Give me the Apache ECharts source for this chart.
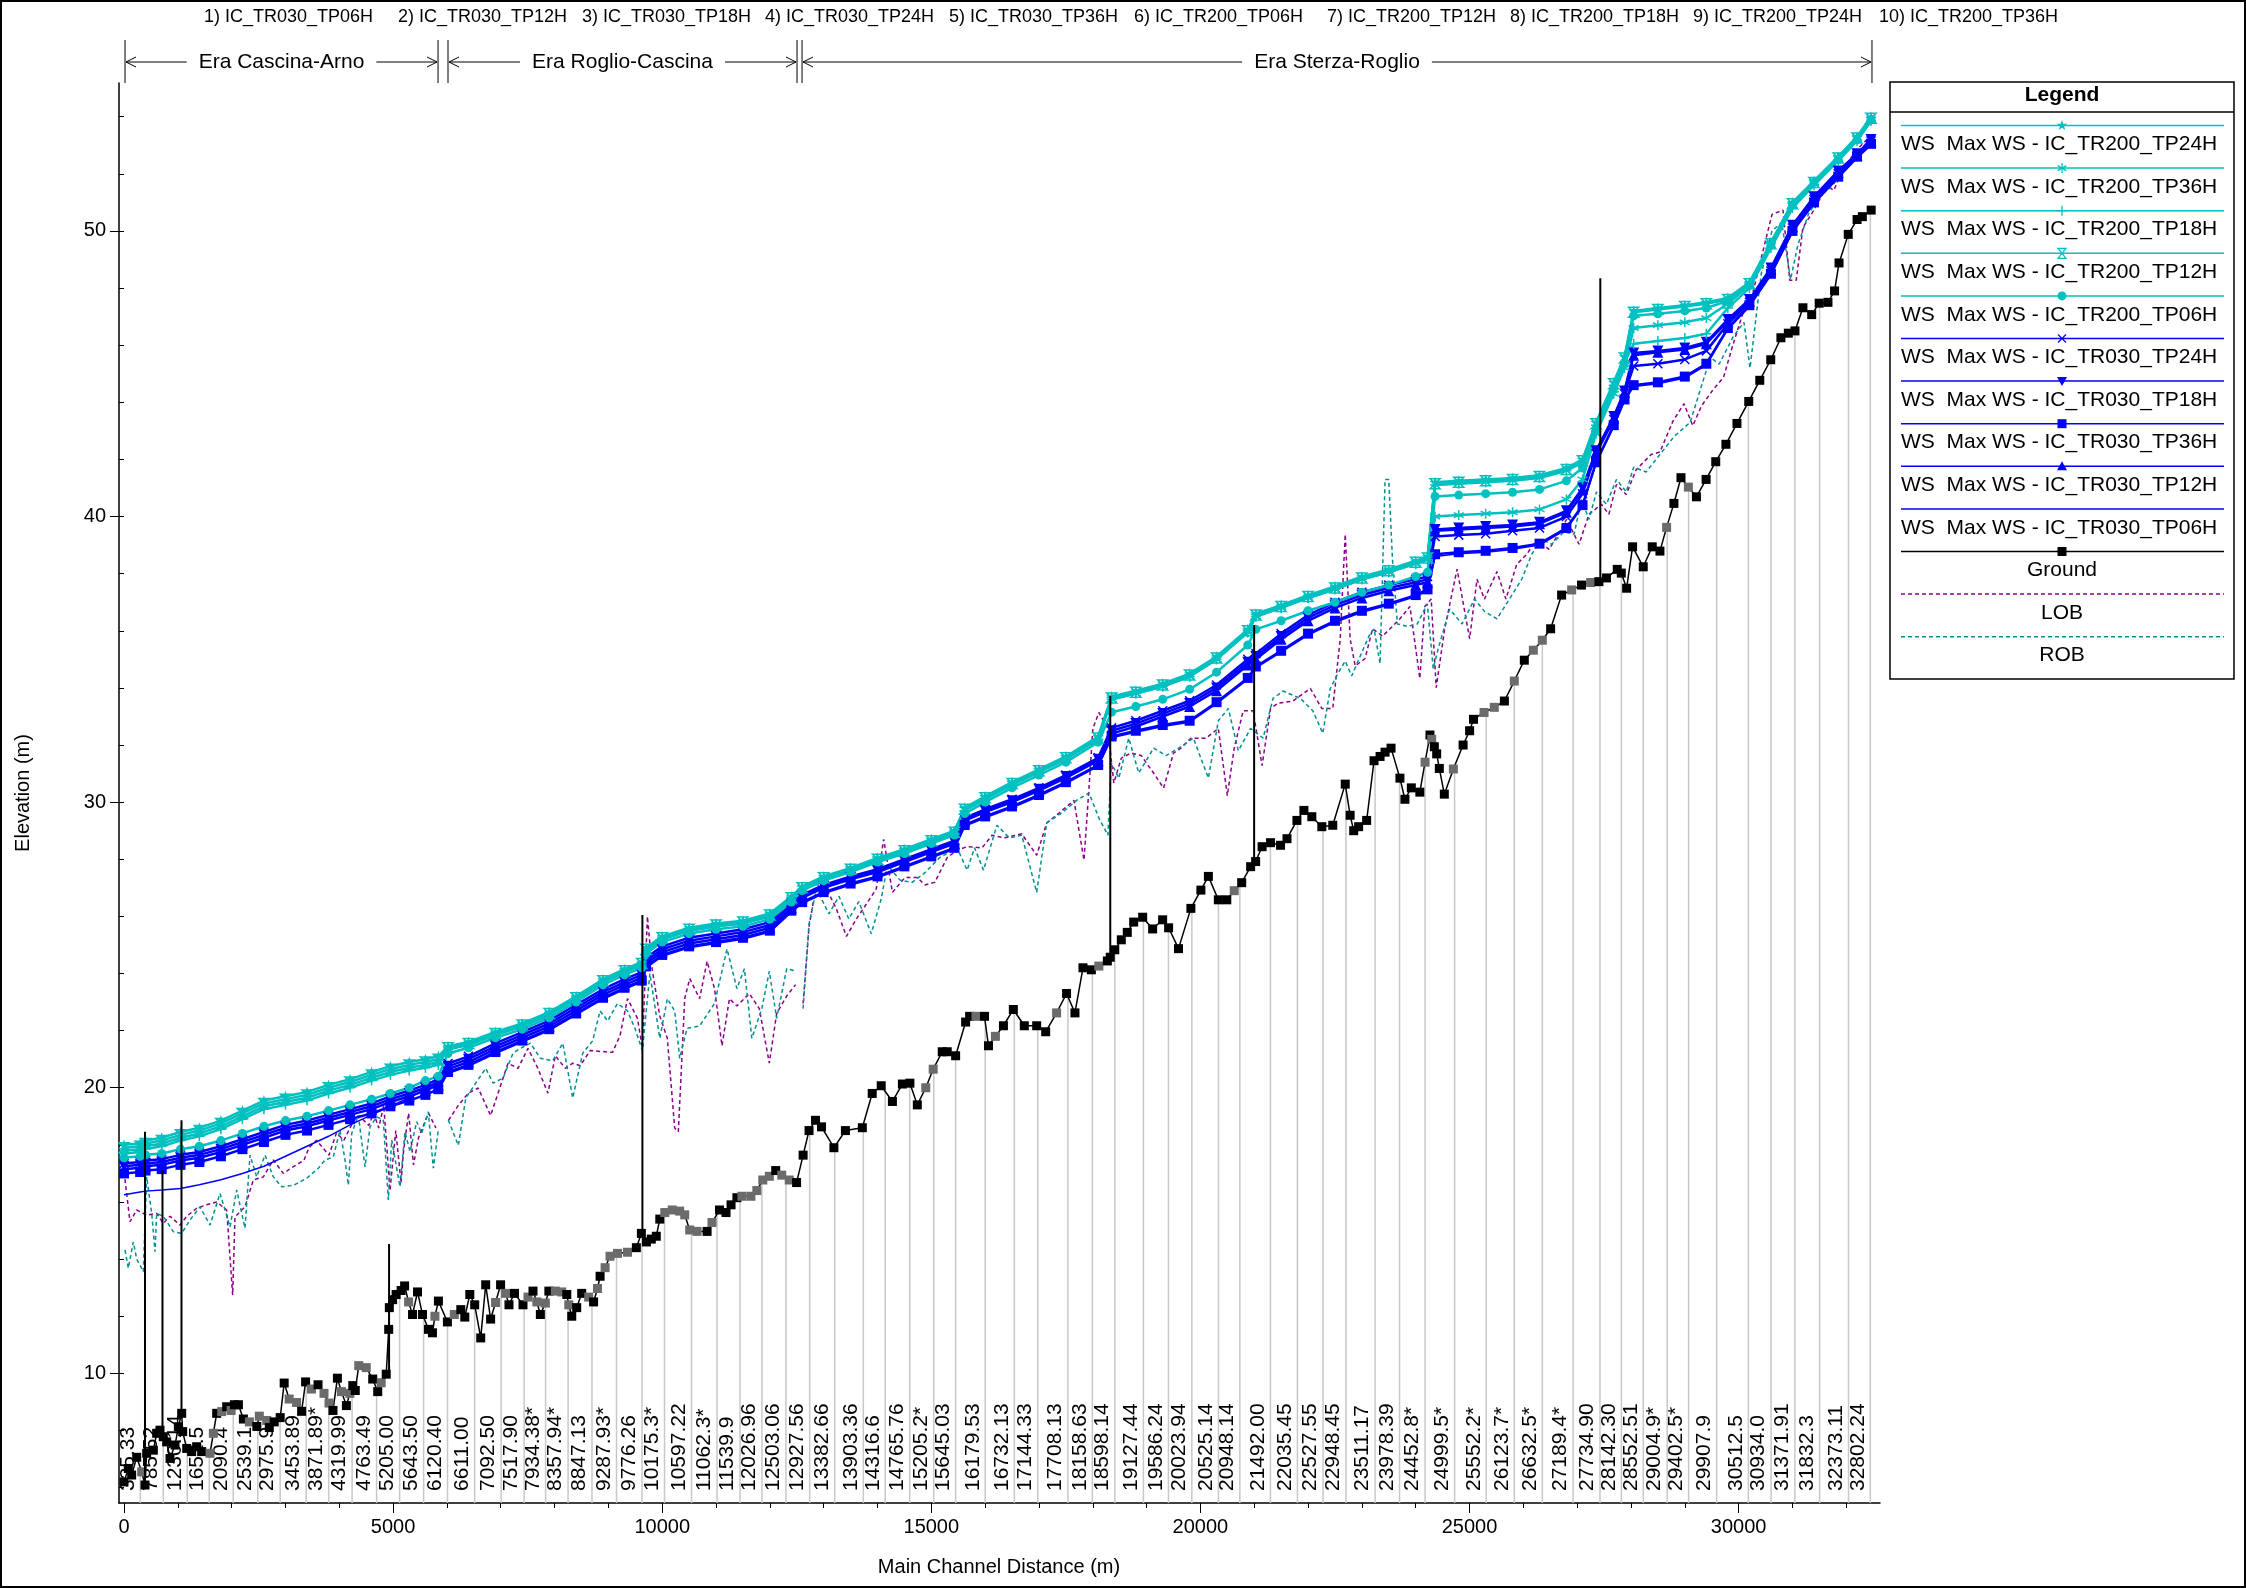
<!DOCTYPE html>
<html>
<head>
<meta charset="utf-8">
<title>Profile</title>
<script src="https://cdn.jsdelivr.net/npm/echarts@6.0.0/dist/echarts.min.js"></script>
<style>
  html, body { margin: 0; padding: 0; background: #fff; }
  #chart { width: 2246px; height: 1588px; }
</style>
</head>
<body>
<div id="chart"></div>
<script type="text/javascript">
// profile names shown on top
var profileTitles = ['1) IC_TR030_TP06H', '2) IC_TR030_TP12H', '3) IC_TR030_TP18H', '4) IC_TR030_TP24H', '5) IC_TR030_TP36H',
  '6) IC_TR200_TP06H', '7) IC_TR200_TP12H', '8) IC_TR200_TP18H', '9) IC_TR200_TP24H', '10) IC_TR200_TP36H'];
// reaches (main channel distance)
var reachNames = ['Era Cascina-Arno', 'Era Roglio-Cascina', 'Era Sterza-Roglio'];
var reachFrom = [19, 6020, 12598];
var reachTo = [5835, 12505, 32478];

var xTickLabels = [0, 5000, 10000, 15000, 20000, 25000, 30000];
var yTickLabels = [10, 20, 30, 40, 50];

// water surface profiles
var wsX = [0,300,400,700,1050,1400,1800,2200,2600,3000,3400,3800,4200,4600,4950,5300,5600,5840,
  6020,6400,6900,7400,7900,8400,8900,9300,9620,9700,10000,10500,11000,11500,12000,12400,
  12600,13000,13500,14000,14500,15000,15430,15620,16000,16500,17000,17500,18100,
  18350,18800,19300,19800,20300,20880,21030,21500,22000,22500,23000,23500,24000,24220,
  24360,24800,25300,25800,26300,26800,27100,27350,27680,27880,28050,28500,29000,29400,29800,30200,30600,31000,31400,31850,32200,32460];

var wsTR200_TP24H = [18.0,18.05,18.15,18.25,18.45,18.6,18.85,19.2,19.55,19.7,19.85,20.1,20.3,20.55,20.75,20.9,21.0,21.1,
  21.45,21.6,21.95,22.25,22.65,23.2,23.8,24.15,24.4,24.9,25.3,25.6,25.75,25.85,26.1,26.7,
  27.05,27.4,27.7,28.05,28.35,28.7,29.0,29.8,30.2,30.7,31.15,31.6,32.3,
  33.7,33.9,34.15,34.5,35.1,36.05,36.6,36.9,37.25,37.55,37.9,38.15,38.45,38.6,
  41.2,41.25,41.3,41.35,41.45,41.7,42.0,43.3,44.7,45.6,47.2,47.3,47.4,47.5,47.65,48.2,49.6,51.0,51.75,52.6,53.3,54.0];
var wsTR200_TP36H = [17.8,17.85,17.95,18.05,18.25,18.4,18.65,19.0,19.35,19.5,19.65,19.9,20.1,20.35,20.55,20.7,20.8,20.9,
  21.35,21.5,21.85,22.15,22.55,23.1,23.7,24.05,24.3,24.8,25.2,25.5,25.65,25.75,26.0,26.6,
  27.0,27.35,27.65,28.0,28.3,28.65,28.95,29.75,30.15,30.65,31.1,31.55,32.25,
  33.6,33.8,34.05,34.4,35.0,35.95,36.5,36.8,37.15,37.45,37.8,38.05,38.35,38.5,
  40.0,40.05,40.1,40.15,40.25,40.6,41.3,42.9,44.3,45.2,46.6,46.7,46.8,46.95,47.45,48.1,49.5,50.9,51.7,52.55,53.25,53.9];
var wsTR200_TP18H = [17.7,17.75,17.85,17.95,18.15,18.3,18.55,18.9,19.25,19.4,19.55,19.8,20.0,20.25,20.45,20.6,20.7,20.8,
  21.35,21.5,21.85,22.15,22.55,23.1,23.7,24.05,24.3,24.8,25.2,25.5,25.65,25.75,26.0,26.6,
  26.95,27.3,27.6,27.95,28.25,28.6,28.9,29.7,30.1,30.6,31.05,31.5,32.2,
  33.6,33.8,34.05,34.4,35.0,35.95,36.5,36.8,37.15,37.45,37.8,38.05,38.35,38.5,
  41.1,41.15,41.2,41.25,41.35,41.6,41.9,43.2,44.6,45.4,46.05,46.15,46.25,46.4,47.3,48.0,49.4,50.8,51.6,52.45,53.15,53.85];
var wsTR200_TP12H = [17.9,17.95,18.05,18.15,18.35,18.5,18.75,19.1,19.45,19.6,19.75,20.0,20.2,20.45,20.65,20.8,20.9,21.0,
  21.4,21.55,21.9,22.2,22.6,23.15,23.75,24.1,24.35,24.85,25.25,25.55,25.7,25.8,26.05,26.65,
  27.0,27.35,27.65,28.0,28.3,28.65,28.95,29.75,30.15,30.65,31.1,31.55,32.25,
  33.65,33.85,34.1,34.45,35.05,36.0,36.55,36.85,37.2,37.5,37.85,38.1,38.4,38.55,
  41.15,41.2,41.25,41.3,41.4,41.65,41.95,43.25,44.65,45.55,47.15,47.25,47.35,47.45,47.6,48.15,49.55,50.95,51.7,52.55,53.25,53.95];
var wsTR200_TP06H = [17.55,17.6,17.65,17.7,17.85,17.95,18.15,18.4,18.65,18.85,19.0,19.2,19.4,19.6,19.8,20.0,20.25,20.4,
  21.2,21.4,21.75,22.05,22.45,23.0,23.6,23.95,24.2,24.7,25.1,25.4,25.55,25.65,25.9,26.5,
  26.9,27.25,27.55,27.9,28.2,28.55,28.85,29.6,30.0,30.5,30.95,31.4,32.1,
  33.15,33.35,33.6,33.95,34.55,35.5,36.05,36.35,36.7,37.0,37.35,37.6,37.9,38.05,
  40.7,40.75,40.8,40.85,40.95,41.25,41.7,43.0,44.5,45.4,47.03,47.1,47.2,47.3,47.55,48.1,49.5,50.9,51.7,52.5,53.2,53.9];
var wsTR030_TP24H = [17.35,17.4,17.45,17.5,17.65,17.75,17.95,18.2,18.45,18.7,18.85,19.05,19.25,19.45,19.7,19.9,20.1,20.3,
  20.85,21.1,21.55,21.95,22.35,22.9,23.45,23.8,24.05,24.55,24.95,25.25,25.4,25.55,25.8,26.5,
  26.75,27.1,27.4,27.65,28.0,28.35,28.65,29.45,29.75,30.1,30.5,30.95,31.55,
  32.6,32.85,33.2,33.55,34.1,35.0,35.2,35.9,36.55,37.0,37.35,37.6,37.8,37.9,
  39.3,39.35,39.4,39.5,39.6,40.0,40.8,42.2,43.4,44.3,45.27,45.35,45.5,45.8,46.75,47.5,48.6,50.1,51.1,52.0,52.65,53.15];
var wsTR030_TP18H = [17.25,17.3,17.35,17.4,17.55,17.65,17.85,18.1,18.35,18.6,18.75,18.95,19.15,19.35,19.6,19.8,20.0,20.2,
  20.75,21.0,21.45,21.85,22.25,22.8,23.35,23.7,23.95,24.45,24.85,25.15,25.3,25.45,25.7,26.4,
  26.7,27.05,27.35,27.6,27.95,28.3,28.6,29.4,29.7,30.05,30.45,30.9,31.5,
  32.5,32.75,33.1,33.45,34.0,34.9,35.1,35.8,36.45,36.9,37.25,37.5,37.7,37.8,
  39.55,39.6,39.65,39.7,39.8,40.2,41.0,42.3,43.5,44.4,45.73,45.8,45.9,46.1,46.9,47.6,48.7,50.2,51.2,52.1,52.7,53.2];
var wsTR030_TP36H = [17.0,17.05,17.1,17.15,17.3,17.4,17.6,17.85,18.1,18.35,18.5,18.7,18.9,19.1,19.35,19.55,19.75,19.95,
  20.55,20.8,21.25,21.65,22.05,22.6,23.15,23.5,23.75,24.25,24.65,24.95,25.1,25.25,25.5,26.2,
  26.5,26.85,27.15,27.4,27.75,28.1,28.4,29.2,29.5,29.85,30.25,30.7,31.3,
  32.3,32.5,32.7,32.85,33.5,34.35,34.75,35.3,35.9,36.35,36.7,36.95,37.25,37.45,
  38.68,38.75,38.8,38.9,39.05,39.6,40.4,41.9,43.2,44.1,44.6,44.7,44.9,45.35,46.6,47.4,48.5,50.0,51.0,51.9,52.6,53.05];
var wsTR030_TP12H = [17.15,17.2,17.25,17.3,17.45,17.55,17.75,18.0,18.25,18.5,18.65,18.85,19.05,19.25,19.5,19.7,19.9,20.1,
  20.65,20.9,21.35,21.75,22.15,22.7,23.25,23.6,23.85,24.35,24.75,25.05,25.2,25.35,25.6,26.3,
  26.65,27.0,27.3,27.55,27.9,28.25,28.55,29.35,29.65,30.0,30.4,30.85,31.45,
  32.4,32.65,33.0,33.35,33.9,34.8,35.0,35.7,36.35,36.8,37.15,37.4,37.6,37.7,
  39.5,39.55,39.6,39.65,39.75,40.15,40.95,42.25,43.45,44.35,45.65,45.75,45.85,46.05,46.85,47.55,48.65,50.15,51.15,52.05,52.65,53.15];
var wsTR030_TP06H = [16.25,16.35,16.38,16.42,16.47,16.6,16.78,17.0,17.25,17.6,17.95,18.3,18.7,19.05,19.35,19.65,19.95,20.2,
  20.5,20.75,21.2,21.6,22.0,22.55,23.1,23.45,23.7,24.2,24.6,24.9,25.05,25.2,25.45,26.15,
  26.45,26.8,27.1,27.35,27.7,28.05,28.35,29.15,29.45,29.8,30.2,30.65,31.25,
  32.25,32.45,32.65,32.8,33.45,34.3,34.7,35.25,35.85,36.3,36.65,36.9,37.2,37.4,
  38.6,38.7,38.75,38.85,39.0,39.55,40.35,41.85,43.15,44.05,44.55,44.65,44.85,45.3,46.55,47.35,48.45,49.95,50.95,51.85,52.55,53.0];

// channel bed (distance, elevation)
var groundXY = [[0,6.2],[80,6.67],[142,6.44],[236,7.06],[329,6.55],[390,6.09],[421,7.2],[545,7.31],[607,7.9],[669,8.01],
  [730,7.78],[793,7.6],[855,7.02],[948,7.49],[1010,8.13],[1072,8.6],[1090,7.96],[1165,7.37],[1257,7.26],[1350,7.43],
  [1443,7.26],[1598,7.2],[1660,7.9],[1722,8.6],[1815,8.66],[1908,8.83],[1990,8.7],[2051,8.9],[2126,8.9],[2218,8.4],
  [2330,8.3],[2468,8.14],[2514,8.5],[2653,8.35],[2700,8.1],[2791,8.3],[2902,8.45],[2976,9.66],[3069,9.1],[3207,8.98],
  [3300,8.67],[3374,9.7],[3484,9.45],[3605,9.6],[3716,9.3],[3809,8.96],[3883,8.7],[3965,9.83],[4040,9.36],[4132,8.87],
  [4197,9.3],[4251,9.57],[4297,9.4],[4362,10.27],[4501,10.2],[4621,9.8],[4714,9.36],[4779,9.67],[4872,9.97],[4918,11.54],
  [4930,12.3],[4991,12.58],[5056,12.76],[5149,12.9],[5214,13.06],[5288,12.5],[5361,12.06],[5454,12.85],[5546,12.06],[5658,11.54],
  [5731,11.42],[5777,12.0],[5842,12.53],[6009,11.8],[6137,12.06],[6258,12.23],[6332,11.97],[6425,12.76],[6516,12.4],[6628,11.24],
  [6720,13.1],[6812,11.9],[6904,12.48],[6997,13.1],[7090,12.8],[7153,12.4],[7255,12.8],[7413,12.4],[7506,12.67],[7599,12.88],
  [7671,12.5],[7736,12.06],[7829,12.46],[7894,12.88],[8014,12.88],[8134,12.85],[8227,12.76],[8264,12.4],[8319,12.0],[8411,12.3],
  [8504,12.8],[8634,12.67],[8725,12.5],[8798,12.97],[8846,13.4],[8939,13.7],[9030,14.1],[9169,14.2],[9355,14.24],[9520,14.4],
  [9613,14.9],[9706,14.6],[9797,14.7],[9890,14.8],[9955,15.4],[10048,15.63],[10186,15.72],[10325,15.68],[10418,15.55],[10511,15.02],
  [10648,14.97],[10834,14.97],[10925,15.28],[11065,15.72],[11186,15.63],[11279,15.9],[11388,16.15],[11481,16.2],[11648,16.2],[11758,16.4],
  [11869,16.77],[11990,16.9],[12109,17.1],[12221,16.94],[12360,16.77],[12497,16.68],[12618,17.64],[12728,18.5],[12848,18.86],[12960,18.63],
  [13190,17.9],[13404,18.5],[13718,18.6],[13902,19.8],[14069,20.07],[14277,19.52],[14463,20.13],[14602,20.16],[14740,19.4],[14897,20.0],
  [15035,20.65],[15203,21.26],[15296,21.26],[15452,21.12],[15638,22.3],[15712,22.5],[15830,22.5],[15988,22.5],[16062,21.47],[16191,21.8],
  [16340,22.17],[16524,22.74],[16728,22.17],[16958,22.17],[17125,21.96],[17328,22.62],[17513,23.3],[17669,22.62],[17818,24.2],[17974,24.13],
  [18113,24.26],[18271,24.44],[18325,24.57],[18409,24.83],[18530,25.18],[18641,25.44],[18760,25.8],[18927,25.97],[19112,25.56],[19298,25.88],
  [19409,25.6],[19593,24.87],[19823,26.28],[20009,26.92],[20148,27.4],[20333,26.58],[20490,26.58],[20628,26.9],[20767,27.18],[20933,27.74],
  [21026,27.92],[21146,28.44],[21303,28.58],[21489,28.49],[21609,28.72],[21793,29.36],[21923,29.71],[22070,29.49],[22256,29.14],[22459,29.19],
  [22691,30.63],[22782,29.54],[22848,29.0],[22940,29.14],[23089,29.36],[23226,31.45],[23338,31.6],[23431,31.75],[23542,31.89],[23707,30.84],
  [23800,30.1],[23919,30.5],[24077,30.35],[24174,31.4],[24265,32.35],[24297,32.2],[24346,31.94],[24390,31.69],[24439,31.18],[24532,30.28],
  [24700,31.16],[24881,32.0],[25002,32.5],[25074,32.9],[25270,33.14],[25460,33.32],[25648,33.54],[25832,34.24],[26018,34.97],[26186,35.32],
  [26353,35.67],[26507,36.07],[26711,37.25],[26898,37.43],[27081,37.6],[27251,37.69],[27404,37.72],[27544,37.85],[27745,38.15],[27820,38.02],
  [27919,37.49],[28030,38.94],[28228,38.24],[28395,38.94],[28538,38.79],[28662,39.62],[28798,40.46],[28929,41.36],[29067,41.03],[29216,40.69],
  [29396,41.3],[29575,41.92],[29764,42.53],[29969,43.26],[30188,44.03],[30393,44.77],[30597,45.49],[30786,46.26],[30924,46.42],[31047,46.5],
  [31195,47.31],[31358,47.07],[31497,47.47],[31660,47.5],[31783,47.9],[31866,48.88],[32037,49.88],[32201,50.4],[32299,50.5],[32463,50.73]];
// interpolated cross sections (grey markers)
var groundInterpX = [329,1598,1660,1815,1990,2330,2514,2653,3069,3207,3484,3716,3809,4040,4197,4362,4501,4779,5288,5777,
  6137,6904,7090,7506,7671,7829,8014,8134,8264,8634,8798,8939,9030,9169,9355,10048,10186,10325,10418,10511,10648,10925,
  11481,11648,11758,11869,11990,12221,12360,14897,15035,15830,16191,17328,18113,20628,24174,24297,24700,25270,25460,25832,
  26186,26353,26898,27251,28662,29067];

// left / right overbank stations (null = gap between reaches)
var lobXY = [[18,16.8],[111,15.31],[236,15.72],[421,15.54],[607,15.6],[730,15.25],[855,15.5],[1040,15.19],[1165,15.5],[1350,15.78],
  [1536,15.9],[1722,16.0],[1908,15.72],[2019,12.74],[2062,15.48],[2248,15.83],[2403,16.77],[2589,16.88],[2774,17.47],[2960,17.0],
  [3114,17.2],[3345,17.46],[3437,17.9],[3577,18.16],[3809,17.64],[3947,18.42],[4086,18.16],[4270,18.86],[4362,19.03],[4548,18.68],
  [4640,19.11],[4733,18.59],[4826,19.38],[4942,16.4],[5050,18.5],[5147,16.68],[5195,17.8],[5288,19.11],[5379,17.3],[5472,18.25],
  [5565,18.68],[5658,19.11],[5795,18.59],null,
  [6028,18.86],[6212,19.38],[6397,19.81],[6581,19.99],[6812,19.03],[6950,19.81],[7135,20.86],[7321,20.68],[7506,21.38],[7690,20.68],
  [7876,19.81],[8014,21.12],[8200,20.68],[8337,20.86],[8477,20.77],[8660,21.3],[9077,21.24],[9216,21.82],[9355,23.12],[9540,22.43],
  [9632,21.38],[9725,26.0],[9818,24.08],[9955,22.51],[10095,21.73],[10232,18.59],[10300,18.46],[10418,23.12],[10511,23.82],[10695,23.12],
  [10834,24.43],[10972,23.47],[11111,21.47],[11249,23.12],[11388,22.86],[11619,23.3],[11804,22.77],[11990,20.86],[12127,22.6],[12313,23.21],
  [12479,23.61],null,
  [12618,22.95],[12728,25.65],[12867,27.13],[13053,26.96],[13237,26.26],[13423,25.3],[13607,25.91],[13793,26.43],[13977,26.96],[14115,28.7],
  [14277,26.84],[14510,27.36],[14740,27.36],[14880,27.1],[15063,27.19],[15296,28.06],[15480,28.32],[15665,28.44],[15942,28.4],[16128,28.84],
  [16358,28.75],[16681,28.89],[16958,28.14],[17144,29.27],[17374,29.62],[17651,30.06],[17837,27.97],[17930,30.5],[18002,32.58],[18113,33.14],
  [18281,32.58],[18391,30.67],[18530,31.54],[18714,31.72],[18900,31.63],[19130,31.02],[19316,30.49],[19500,31.72],[19639,31.89],[19823,32.24],
  [20102,32.24],[20333,32.58],[20500,30.23],[20628,31.89],[20795,33.2],[20979,33.2],[21146,31.28],[21303,33.28],[21442,33.46],[21719,33.54],
  [22042,33.98],[22256,33.28],[22459,33.28],[22598,35.72],[22691,39.38],[22782,35.72],[22875,34.77],[23060,35.03],[23198,36.07],[23384,35.81],
  [23523,36.07],[23707,36.42],[23893,36.85],[24077,34.33],[24170,36.85],[24288,37.11],[24381,34.01],[24539,36.07],[24769,38.16],[25002,35.72],
  [25139,37.8],[25278,37.11],[25510,38.07],[25676,37.11],[25879,38.33],[26065,38.68],[26249,39.2],[26479,38.85],[26618,39.29],[26805,39.9],
  [27035,39.03],[27220,40.08],[27451,40.43],[27590,40.08],[27730,41.12],[27913,40.77],[28096,41.64],[28374,42.17],[28538,42.26],[28780,43.34],
  [28985,43.95],[29148,43.18],[29312,43.88],[29518,44.42],[29721,44.88],[29886,45.96],[30091,47.19],[30212,47.42],[30418,49.04],[30621,50.58],
  [30825,50.73],[30950,48.27],[31070,48.27],[31195,50.12],[31399,50.73],[31643,51.58],[31767,51.42],[31931,52.12],[32095,52.58],[32258,52.96],
  [32463,53.35]];
var robXY = [[18,14.32],[80,13.68],[173,14.6],[236,14.0],[359,13.56],[421,16.88],[515,15.6],[576,14.26],[607,15.6],[730,15.5],
  [916,14.96],[1072,14.9],[1226,15.37],[1412,15.83],[1598,15.19],[1784,16.3],[1970,15.13],[2094,16.42],[2248,15.08],[2341,17.64],
  [2466,16.88],[2620,17.64],[2774,16.88],[2930,16.53],[3146,16.58],[3395,16.83],[3610,17.18],[3735,17.47],[3889,17.58],[4013,18.52],
  [4106,17.47],[4168,16.59],[4231,18.4],[4354,19.04],[4478,17.23],[4571,18.63],[4695,18.98],[4818,18.87],[4911,16.07],[4974,18.17],
  [5128,16.53],[5221,18.46],[5314,17.76],[5438,18.81],[5531,18.4],[5654,19.16],[5747,17.18],[5840,18.52],null,
  [6026,18.87],[6212,17.98],[6351,19.64],[6535,20.16],[6721,20.68],[6858,20.16],[7044,20.34],[7228,21.21],[7367,21.38],[7551,21.56],
  [7737,21.03],[7967,20.95],[8153,21.56],[8337,19.64],[8523,21.21],[8707,21.64],[8846,22.69],[8986,22.34],[9169,22.95],[9355,22.69],
  [9493,22.08],[9632,21.3],[9771,24.0],[9955,21.73],[10095,23.12],[10232,22.69],[10325,21.03],[10461,22.08],[10695,22.16],[10972,22.95],
  [11204,24.86],[11388,23.47],[11527,24.17],[11665,21.73],[11851,22.77],[11990,24.08],[12127,22.43],[12313,24.17],[12497,24.08],null,
  [12618,22.77],[12728,25.74],[12867,26.96],[13097,26.09],[13284,26.7],[13467,25.91],[13653,26.52],[13884,25.39],[14069,26.61],[14186,27.8],
  [14417,27.27],[14647,27.19],[14880,27.53],[15156,28.06],[15480,28.4],[15665,27.62],[15803,28.4],[15970,27.62],[16219,29.19],[16450,28.75],
  [16681,28.84],[16958,26.84],[17144,29.27],[17421,29.62],[17698,30.06],[17930,30.32],[18113,29.45],[18281,28.84],[18345,31.37],[18484,30.84],
  [18669,32.24],[18854,31.02],[19130,31.89],[19362,31.63],[19593,31.89],[19870,32.24],[20148,30.84],[20333,32.85],[20519,33.28],[20703,31.8],
  [20933,32.58],[21165,32.24],[21349,33.63],[21535,33.89],[21858,33.63],[22088,33.2],[22274,32.41],[22413,33.98],[22553,34.5],[22691,34.94],
  [22810,34.42],[22968,35.11],[23152,35.9],[23226,36.07],[23338,34.85],[23431,41.3],[23500,41.3],[23568,38.51],[23660,36.24],[23846,36.15],
  [24030,36.24],[24216,36.94],[24325,34.67],[24418,35.37],[24630,36.76],[24862,36.24],[25093,37.11],[25278,36.68],[25510,36.42],[25741,37.11],
  [25972,37.81],[26156,38.68],[26341,39.2],[26526,39.03],[26758,39.47],[26943,39.38],[27081,40.6],[27220,39.9],[27358,40.86],[27544,40.43],
  [27730,41.3],[27913,40.86],[28050,41.73],[28281,41.56],[28538,42.17],[28800,42.8],[29100,43.3],[29475,45.57],[29640,45.34],[29900,46.3],
  [30100,46.8],[30212,45.2],[30420,48.5],[30620,50.0],[30800,50.3],[30965,48.3],[31100,49.5],[31300,50.6],[31500,51.2],[31750,51.6],
  [32000,52.3],[32250,52.8],[32463,53.3]];

// bridges / structures
var structX = [390, 715, 1068, 4925, 9632, 18325, 20998, 27430];
var structBottom = [6.09, 7.9, 8.6, 10.0, 14.85, 24.58, 27.88, 37.79];
var structTop = [18.46, 17.1, 18.86, 14.53, 26.05, 33.72, 36.2, 48.34];

// labelled river stations
var stationLabels = ['335.33','785.52','1230.14','1652.5','2090.4','2539.1','2975.9','3453.89','3871.89*','4319.99',
  '4763.49','5205.00','5643.50','6120.40','6611.00','7092.50','7517.90','7934.38*','8357.94*','8847.13',
  '9287.93*','9776.26','10175.3*','10597.22','11062.3*','11539.9','12026.96','12503.06','12927.56','13382.66',
  '13903.36','14316.6','14765.76','15205.2*','15645.03','16179.53','16732.13','17144.33','17708.13','18158.63',
  '18598.14','19127.44','19586.24','20023.94','20525.14','20948.14','21492.00','22035.45','22527.55','22948.45',
  '23511.17','23978.39','24452.8*','24999.5*','25552.2*','26123.7*','26632.5*','27189.4*','27734.90','28142.30',
  '28552.51','29004.9*','29402.5*','29907.9','30512.5','30934.0','31371.91','31832.3','32373.11','32802.24'];
var stationX = [303,730,1175,1584,2030,2485,2901,3385,3803,4238,
  4693,5121,5567,6011,6515,7007,7435,7833,8251,8695,
  9151,9625,10043,10545,11019,11446,11853,12299,12740,13205,
  13737,14144,14599,15045,15452,16002,16543,16979,17538,17992,
  18410,18941,19406,19841,20335,20733,21301,21803,22279,22704,
  23245,23700,24174,24723,25311,25832,26353,26924,27424,27822,
  28229,28673,29071,29592,30181,30603,31046,31505,32042,32447];

// ---- chart ----
var FONT = '"Liberation Sans", Arial, sans-serif';
var CYAN = '#00C0C0', BLUE = '#0000FF', PURPLE = '#8B008B', TEAL = '#009090';
var X_MIN = -93, X_MAX = 32627, Y_MIN = 5.46, Y_MAX = 55.18;

var SYM = {
  star: 'path://M0,-10L2.4,-3.3L9.5,-3.1L3.9,1.3L5.9,8.1L0,4.1L-5.9,8.1L-3.9,1.3L-9.5,-3.1L-2.4,-3.3Z',
  asterisk: 'path://M0,-10L0,10M-8.7,-5L8.7,5M-8.7,5L8.7,-5',
  plus: 'path://M0,-10L0,10M-10,0L10,0',
  hourglass: 'path://M-8,-10L8,-10L-8,10L8,10Z',
  cross: 'path://M-10,-10L10,10M-10,10L10,-10'
};

function groundAt(x) {
  for (var i = 0; i < groundXY.length - 1; i++) {
    var a = groundXY[i], b = groundXY[i + 1];
    if (x >= a[0] && x <= b[0]) {
      return a[1] + (b[1] - a[1]) * (x - a[0]) / (b[0] - a[0]);
    }
  }
  return groundXY[groundXY.length - 1][1];
}
function pairs(arr) {
  return wsX.map(function (x, i) { return [x, arr[i]]; });
}
function withGaps(list) {
  return list.map(function (p) { return p ? p : ['-', '-']; });
}

var minorX = [];
for (var t = 0; t <= 32000; t += 1000) minorX.push(t);
var minorY = [];
for (var v = 6; v <= 54; v += 2) minorY.push(v);

function wsSeries(name, data, color, symbol, size, opts) {
  var s = {
    name: name, type: 'line', data: pairs(data), z: 3, silent: true,
    symbol: symbol, symbolSize: size,
    lineStyle: { color: color, width: 2.5 },
    itemStyle: { color: color, borderColor: color, borderWidth: 0 }
  };
  if (opts) {
    for (var k in opts) s[k] = opts[k];
  }
  return s;
}

var series = [
  {
    type: 'custom', z: 1, silent: true,
    data: stationX.map(function (x) { return [x, Y_MIN]; }),
    encode: { x: 0, y: 1 },
    renderItem: function (params, api) {
      var x = api.value(0);
      var top = api.coord([x, groundAt(x)]);
      var bot = api.coord([x, Y_MIN]);
      return {
        type: 'group', children: [
          { type: 'line', shape: { x1: top[0], y1: top[1], x2: bot[0], y2: bot[1] }, style: { stroke: '#c8c8c8', lineWidth: 1.5 } },
          { type: 'text', x: bot[0] - 2, y: bot[1] - 12, rotation: Math.PI / 2,
            style: { text: stationLabels[params.dataIndex], font: '21px ' + FONT, fill: '#000', align: 'left', verticalAlign: 'bottom' } }
        ]
      };
    }
  },
  { name: 'LOB', type: 'line', z: 2, silent: true, data: withGaps(lobXY), symbol: 'none', connectNulls: false,
    lineStyle: { color: PURPLE, width: 1.5, type: [4, 3] } },
  { name: 'ROB', type: 'line', z: 2, silent: true, data: withGaps(robXY), symbol: 'none', connectNulls: false,
    lineStyle: { color: TEAL, width: 1.5, type: [4, 3] } },
  wsSeries('WS  Max WS - IC_TR030_TP06H', wsTR030_TP06H, BLUE, 'none', 0, { lineStyle: { color: BLUE, width: 1.5 } }),
  wsSeries('WS  Max WS - IC_TR030_TP12H', wsTR030_TP12H, BLUE, 'triangle', 11),
  wsSeries('WS  Max WS - IC_TR030_TP36H', wsTR030_TP36H, BLUE, 'rect', 10),
  wsSeries('WS  Max WS - IC_TR030_TP18H', wsTR030_TP18H, BLUE, 'triangle', 11, { symbolRotate: 180 }),
  wsSeries('WS  Max WS - IC_TR030_TP24H', wsTR030_TP24H, BLUE, SYM.cross, 9, { itemStyle: { color: BLUE, borderColor: BLUE, borderWidth: 1.5 } }),
  wsSeries('WS  Max WS - IC_TR200_TP06H', wsTR200_TP06H, CYAN, 'circle', 9),
  wsSeries('WS  Max WS - IC_TR200_TP12H', wsTR200_TP12H, CYAN, SYM.hourglass, 10, { itemStyle: { color: 'rgba(0,0,0,0)', borderColor: CYAN, borderWidth: 1.5 } }),
  wsSeries('WS  Max WS - IC_TR200_TP18H', wsTR200_TP18H, CYAN, SYM.plus, 10, { itemStyle: { color: CYAN, borderColor: CYAN, borderWidth: 1.5 } }),
  wsSeries('WS  Max WS - IC_TR200_TP36H', wsTR200_TP36H, CYAN, SYM.asterisk, 10, { itemStyle: { color: CYAN, borderColor: CYAN, borderWidth: 1.5 } }),
  wsSeries('WS  Max WS - IC_TR200_TP24H', wsTR200_TP24H, CYAN, SYM.star, 11),
  {
    name: 'Ground', type: 'line', z: 4, silent: true, symbol: 'rect', symbolSize: 9,
    lineStyle: { color: '#000', width: 1.5 },
    itemStyle: { color: '#000' },
    data: groundXY.map(function (p) {
      var grey = groundInterpX.indexOf(p[0]) >= 0;
      return grey ? { value: p, itemStyle: { color: '#6b6b6b' } } : { value: p };
    })
  },
  {
    type: 'custom', z: 5, silent: true,
    data: structX.map(function (x, i) { return [x, structBottom[i], structTop[i]]; }),
    encode: { x: 0, y: [1, 2] },
    renderItem: function (params, api) {
      var a = api.coord([api.value(0), api.value(1)]);
      var b = api.coord([api.value(0), api.value(2)]);
      return { type: 'line', shape: { x1: a[0], y1: a[1], x2: b[0], y2: b[1] }, style: { stroke: '#000', lineWidth: 2 } };
    }
  }
];

var chart = echarts.init(document.getElementById('chart'));
chart.setOption({
  animation: false,
  backgroundColor: '#fff',
  textStyle: { fontFamily: FONT },
  grid: { left: 119, top: 83, width: 1761, height: 1420, containLabel: false, outerBoundsMode: 'none' },
  xAxis: [
    { type: 'value', min: X_MIN, max: X_MAX, position: 'bottom',
      axisLine: { onZero: false, lineStyle: { color: '#000', width: 1.5 } },
      axisTick: { customValues: xTickLabels, length: 10, lineStyle: { color: '#000', width: 1 } },
      axisLabel: { customValues: xTickLabels, color: '#000', fontSize: 20, fontFamily: FONT, margin: 14,
        formatter: function (val) { return String(val); } },
      splitLine: { show: false } },
    { type: 'value', min: X_MIN, max: X_MAX, position: 'bottom',
      axisLine: { show: false },
      axisTick: { customValues: minorX, length: 5, lineStyle: { color: '#000', width: 1 } },
      axisLabel: { show: false }, splitLine: { show: false } }
  ],
  yAxis: [
    { type: 'value', min: Y_MIN, max: Y_MAX, position: 'left',
      axisLine: { show: true, onZero: false, lineStyle: { color: '#000', width: 1.5 } },
      axisTick: { show: true, customValues: yTickLabels, length: 9, lineStyle: { color: '#000', width: 1 } },
      axisLabel: { customValues: yTickLabels, color: '#000', fontSize: 20, fontFamily: FONT, margin: 13 },
      splitLine: { show: false } },
    { type: 'value', min: Y_MIN, max: Y_MAX, position: 'left',
      axisLine: { show: false },
      axisTick: { show: true, customValues: minorY, length: 5, lineStyle: { color: '#000', width: 1 } },
      axisLabel: { show: false }, splitLine: { show: false } }
  ],
  series: series
});

// ---- decorations: titles, reach arrows, legend ----
var els = [];
els.push({ type: 'rect', shape: { x: 1, y: 1, width: 2244, height: 1586 }, style: { fill: 'none', stroke: '#000', lineWidth: 2 }, z: 100 });

var titleLeft = [204, 398, 582, 765, 949, 1134, 1327, 1510, 1693, 1879];
profileTitles.forEach(function (t, i) {
  els.push({ type: 'text', x: titleLeft[i], y: 17, style: { text: t, font: '18px ' + FONT, fill: '#000', align: 'left', verticalAlign: 'middle' } });
});

var measure = document.createElement('canvas').getContext('2d');
measure.font = '21px "Liberation Sans"';
var RY = 62;
reachNames.forEach(function (name, i) {
  var x0 = chart.convertToPixel({ xAxisIndex: 0 }, reachFrom[i]);
  var x1 = chart.convertToPixel({ xAxisIndex: 0 }, reachTo[i]);
  var cx = (x0 + x1) / 2;
  var w = measure.measureText(name).width;
  var ln = { stroke: '#000', lineWidth: 1 };
  els.push({ type: 'line', shape: { x1: x0, y1: 40, x2: x0, y2: 83 }, style: ln });
  els.push({ type: 'line', shape: { x1: x1, y1: 40, x2: x1, y2: 83 }, style: ln });
  els.push({ type: 'line', shape: { x1: x0 + 1, y1: RY, x2: cx - w / 2 - 12, y2: RY }, style: ln });
  els.push({ type: 'line', shape: { x1: cx + w / 2 + 12, y1: RY, x2: x1 - 1, y2: RY }, style: ln });
  els.push({ type: 'polyline', shape: { points: [[x0 + 11, RY - 5], [x0 + 1, RY], [x0 + 11, RY + 5]] }, style: ln });
  els.push({ type: 'polyline', shape: { points: [[x1 - 11, RY - 5], [x1 - 1, RY], [x1 - 11, RY + 5]] }, style: ln });
  els.push({ type: 'text', x: cx, y: RY, style: { text: name, font: '21px ' + FONT, fill: '#000', align: 'center', verticalAlign: 'middle' } });
});

// axis names
els.push({ type: 'text', x: 23, y: 793, rotation: Math.PI / 2,
  style: { text: 'Elevation (m)', font: '20px ' + FONT, fill: '#000', align: 'center', verticalAlign: 'middle' } });
els.push({ type: 'text', x: 999, y: 1567,
  style: { text: 'Main Channel Distance (m)', font: '20px ' + FONT, fill: '#000', align: 'center', verticalAlign: 'middle' } });

// legend markers drawn from simple shapes
function seg(x1, y1, x2, y2, color) {
  return { type: 'line', shape: { x1: x1, y1: y1, x2: x2, y2: y2 }, style: { stroke: color, lineWidth: 1.3 } };
}
function marker(kind, cx, cy, color) {
  var r = 5;
  switch (kind) {
    case 'circle': return { type: 'circle', shape: { cx: cx, cy: cy, r: 4.5 }, style: { fill: color } };
    case 'rect': return { type: 'rect', shape: { x: cx - 4.5, y: cy - 4.5, width: 9, height: 9 }, style: { fill: color } };
    case 'tup': return { type: 'polygon', shape: { points: [[cx, cy - 5], [cx + 5, cy + 4], [cx - 5, cy + 4]] }, style: { fill: color } };
    case 'tdown': return { type: 'polygon', shape: { points: [[cx - 5, cy - 4], [cx + 5, cy - 4], [cx, cy + 5]] }, style: { fill: color } };
    case 'star':
      var pts = [];
      for (var k = 0; k < 10; k++) {
        var a = -Math.PI / 2 + k * Math.PI / 5, rr = k % 2 ? 2.2 : 5.5;
        pts.push([cx + rr * Math.cos(a), cy + rr * Math.sin(a)]);
      }
      return { type: 'polygon', shape: { points: pts }, style: { fill: color } };
    case 'asterisk':
      return { type: 'group', children: [seg(cx, cy - r, cx, cy + r, color), seg(cx - 4.3, cy - 2.5, cx + 4.3, cy + 2.5, color), seg(cx - 4.3, cy + 2.5, cx + 4.3, cy - 2.5, color)] };
    case 'plus':
      return { type: 'group', children: [seg(cx, cy - r, cx, cy + r, color), seg(cx - r, cy, cx + r, cy, color)] };
    case 'cross':
      return { type: 'group', children: [seg(cx - 4, cy - 4, cx + 4, cy + 4, color), seg(cx - 4, cy + 4, cx + 4, cy - 4, color)] };
    case 'hourglass':
      return { type: 'polygon', shape: { points: [[cx - 4, cy - 5], [cx + 4, cy - 5], [cx - 4, cy + 5], [cx + 4, cy + 5]] }, style: { fill: 'none', stroke: color, lineWidth: 1.3 } };
    default: return null;
  }
}
var legendRows = [
  ['WS  Max WS - IC_TR200_TP24H', CYAN, 'star'],
  ['WS  Max WS - IC_TR200_TP36H', CYAN, 'asterisk'],
  ['WS  Max WS - IC_TR200_TP18H', CYAN, 'plus'],
  ['WS  Max WS - IC_TR200_TP12H', CYAN, 'hourglass'],
  ['WS  Max WS - IC_TR200_TP06H', CYAN, 'circle'],
  ['WS  Max WS - IC_TR030_TP24H', BLUE, 'cross'],
  ['WS  Max WS - IC_TR030_TP18H', BLUE, 'tdown'],
  ['WS  Max WS - IC_TR030_TP36H', BLUE, 'rect'],
  ['WS  Max WS - IC_TR030_TP12H', BLUE, 'tup'],
  ['WS  Max WS - IC_TR030_TP06H', BLUE, 'none']
];
var LX0 = 1890, LX1 = 2234, LCX = 2062;
els.push({ type: 'rect', shape: { x: LX0, y: 82, width: LX1 - LX0, height: 597 }, style: { fill: '#fff', stroke: '#000', lineWidth: 1.5 } });
els.push({ type: 'text', x: LCX, y: 95, style: { text: 'Legend', font: 'bold 21px ' + FONT, fill: '#000', align: 'center', verticalAlign: 'middle' } });
els.push({ type: 'line', shape: { x1: LX0, y1: 112, x2: LX1, y2: 112 }, style: { stroke: '#000', lineWidth: 1.5 } });
legendRows.forEach(function (r, i) {
  var ly = 125.5 + 42.6 * i;
  els.push({ type: 'line', shape: { x1: 1901, y1: ly, x2: 2224, y2: ly }, style: { stroke: r[1], lineWidth: 1.5 } });
  var m = marker(r[2], LCX, ly, r[1]);
  if (m) els.push(m);
  els.push({ type: 'text', x: 1901, y: ly + 19, style: { text: r[0], font: '21px ' + FONT, fill: '#000', align: 'left', verticalAlign: 'middle' } });
});
var gy = 125.5 + 42.6 * 10;
els.push({ type: 'line', shape: { x1: 1901, y1: gy, x2: 2224, y2: gy }, style: { stroke: '#000', lineWidth: 1.5 } });
els.push(marker('rect', LCX, gy, '#000'));
els.push({ type: 'text', x: LCX, y: gy + 19, style: { text: 'Ground', font: '21px ' + FONT, fill: '#000', align: 'center', verticalAlign: 'middle' } });
gy += 42.6;
els.push({ type: 'line', shape: { x1: 1901, y1: gy, x2: 2224, y2: gy }, style: { stroke: PURPLE, lineWidth: 1.5, lineDash: [4, 3] } });
els.push({ type: 'text', x: LCX, y: gy + 19, style: { text: 'LOB', font: '21px ' + FONT, fill: '#000', align: 'center', verticalAlign: 'middle' } });
gy += 42.6;
els.push({ type: 'line', shape: { x1: 1901, y1: gy, x2: 2224, y2: gy }, style: { stroke: TEAL, lineWidth: 1.5, lineDash: [4, 3] } });
els.push({ type: 'text', x: LCX, y: gy + 19, style: { text: 'ROB', font: '21px ' + FONT, fill: '#000', align: 'center', verticalAlign: 'middle' } });

chart.setOption({ graphic: { elements: els } });
</script>
</body>
</html>
